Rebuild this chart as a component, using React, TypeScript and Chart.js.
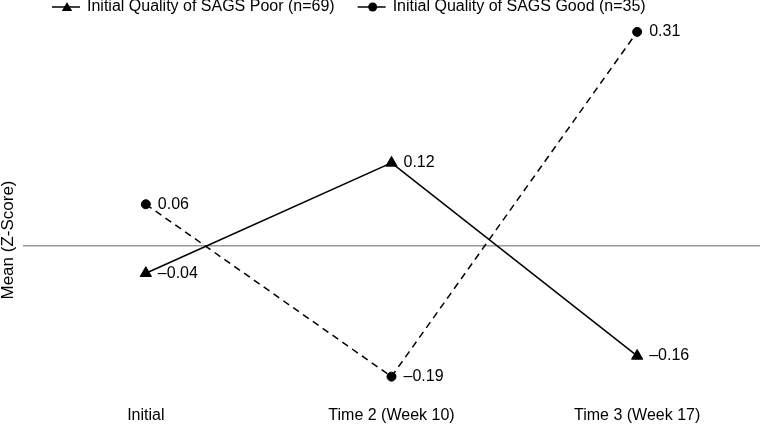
import React, { useEffect, useRef } from "react";
import { Chart, registerables } from "chart.js";

Chart.register(...registerables);

const categories = ["Initial", "Time 2 (Week 10)", "Time 3 (Week 17)"];
const seriesNames = [
  "Initial Quality of SAGS Poor (n=69)",
  "Initial Quality of SAGS Good (n=35)",
];
const poorValues = [-0.04, 0.12, -0.16];
const goodValues = [0.06, -0.19, 0.31];
const yAxisTitle = "Mean (Z-Score)";

const FONT = "'Liberation Sans', Arial, Helvetica, sans-serif";
const FS = 16;
const MARKERS = ["triangle", "circle"];
const DASHES: number[][] = [[], [7, 5]];

function fmt(v: number): string {
  return v < 0 ? "\u2013" + Math.abs(v).toFixed(2) : v.toFixed(2);
}

function drawMarker(ctx: CanvasRenderingContext2D, kind: string, x: number, y: number, r: number) {
  ctx.beginPath();
  if (kind === "triangle") {
    let a = 0;
    for (let i = 0; i < 3; i++) {
      const px = x + Math.sin(a) * r;
      const py = y - Math.cos(a) * r;
      if (i === 0) ctx.moveTo(px, py);
      else ctx.lineTo(px, py);
      a += (2 * Math.PI) / 3;
    }
    ctx.closePath();
  } else {
    ctx.arc(x, y, r, 0, Math.PI * 2);
  }
  ctx.fill();
}

const valueLabelsPlugin = {
  id: "valueLabels",
  afterDatasetsDraw(chart: any) {
    const ctx = chart.ctx as CanvasRenderingContext2D;
    ctx.save();
    ctx.font = `${FS}px ${FONT}`;
    ctx.fillStyle = "#000";
    ctx.textAlign = "left";
    ctx.textBaseline = "middle";
    chart.data.datasets.forEach((ds: any, di: number) => {
      const meta = chart.getDatasetMeta(di);
      meta.data.forEach((el: any, i: number) => {
        ctx.fillText(fmt(ds.data[i]), el.x + 12, el.y);
      });
    });
    ctx.restore();
  },
};

const legendPlugin = {
  id: "lineLegend",
  afterDraw(chart: any) {
    const ctx = chart.ctx as CanvasRenderingContext2D;
    ctx.save();
    ctx.font = `${FS}px ${FONT}`;
    ctx.textAlign = "left";
    ctx.textBaseline = "middle";
    ctx.fillStyle = "#000";
    ctx.strokeStyle = "#000";
    ctx.lineWidth = 1.5;
    const y = 7;
    let x = 52;
    seriesNames.forEach((name, i) => {
      ctx.beginPath();
      ctx.moveTo(x, y);
      ctx.lineTo(x + 28, y);
      ctx.stroke();
      const tri = MARKERS[i] === "triangle";
      drawMarker(ctx, MARKERS[i], x + 15, tri ? y + 1 : y, tri ? 6 : 4.5);
      ctx.fillText(name, x + 35, y);
      x += 35 + ctx.measureText(name).width + 23;
    });
    ctx.restore();
  },
};

const yTitlePlugin = {
  id: "yTitle",
  afterDraw(chart: any) {
    const ctx = chart.ctx as CanvasRenderingContext2D;
    ctx.save();
    ctx.font = `17px ${FONT}`;
    ctx.fillStyle = "#000";
    ctx.textAlign = "center";
    ctx.textBaseline = "middle";
    ctx.translate(8, 240);
    ctx.rotate(-Math.PI / 2);
    ctx.fillText(yAxisTitle, 0, 0);
    ctx.restore();
  },
};

export default function App() {
  const ref = useRef<HTMLCanvasElement>(null);

  useEffect(() => {
    if (!ref.current) return;
    const seriesValues = [poorValues, goodValues];
    const chart = new Chart(ref.current, {
      type: "line",
      data: {
        labels: categories,
        datasets: seriesNames.map((name, i) => ({
          label: name,
          data: seriesValues[i],
          borderColor: "#000",
          backgroundColor: "#000",
          borderWidth: 1.5,
          borderDash: DASHES[i],
          pointStyle: MARKERS[i] as any,
          pointRadius: MARKERS[i] === "triangle" ? 6.5 : 4.5,
          pointBorderWidth: 1,
          pointBorderColor: "#000",
          pointBackgroundColor: "#000",
          tension: 0,
          fill: false,
          clip: false as any,
        })),
      },
      options: {
        responsive: true,
        maintainAspectRatio: false,
        animation: false,
        layout: { autoPadding: false, padding: { top: 25, left: 23, right: 0, bottom: 2 } },
        plugins: {
          legend: { display: false },
          tooltip: { enabled: false },
          title: { display: false },
        },
        scales: {
          x: {
            type: "category",
            offset: true,
            grid: { display: false, drawTicks: false },
            border: { display: false },
            ticks: {
              color: "#000",
              font: { family: FONT, size: FS },
              padding: 8,
              maxRotation: 0,
            },
            afterFit: (s: any) => {
              s.height = 27;
            },
          },
          y: {
            min: -0.221,
            max: 0.32,
            grid: { color: "#9a9a9a", lineWidth: 1.5, drawTicks: false },
            border: { display: false },
            ticks: { display: false },
            afterBuildTicks: (s: any) => {
              s.ticks = [{ value: 0 }];
            },
          },
        },
      },
      plugins: [valueLabelsPlugin, legendPlugin, yTitlePlugin],
    });
    return () => chart.destroy();
  }, []);

  return (
    <div style={{ position: "fixed", left: 0, top: 0, width: 760, height: 427, background: "#fff" }}>
      <canvas ref={ref} style={{ display: "block" }} />
    </div>
  );
}
